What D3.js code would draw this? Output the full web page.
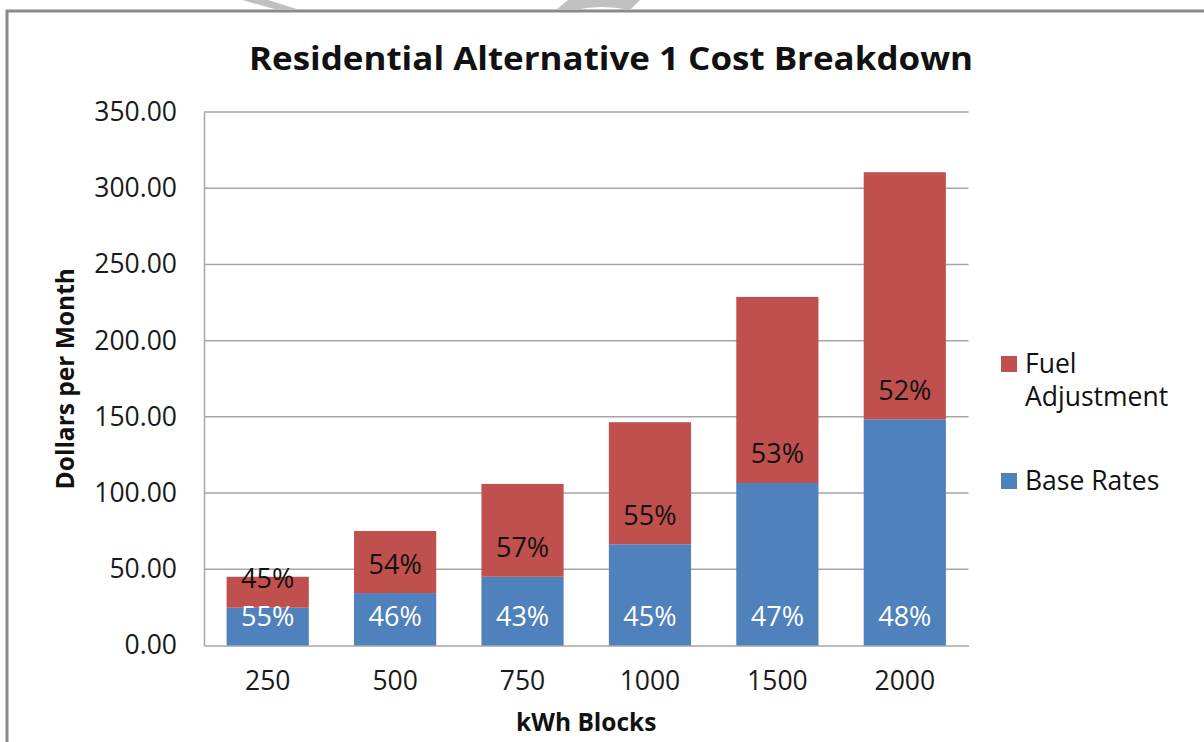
<!DOCTYPE html>
<html>
<head>
<meta charset="utf-8">
<script src="https://cdn.jsdelivr.net/npm/d3@7"></script>
<style>
  html, body { margin: 0; padding: 0; background: #fff; }
  svg { display: block; }
  text { font-family: "Open Sans", "Liberation Sans", sans-serif; }
</style>
</head>
<body>
<svg id="chart" width="1204" height="742"></svg>
<script>
// ---- data ----
const categories = ["250", "500", "750", "1000", "1500", "2000"];
const baseRates = [24.8, 34.4, 45.1, 66.4, 106.6, 148.4];
const fuelAdjustment = [20.3, 40.7, 60.9, 80.1, 122.1, 162.1];
const basePctLabels = ["55%", "46%", "43%", "45%", "47%", "48%"];
const fuelPctLabels = ["45%", "54%", "57%", "55%", "53%", "52%"];
const yTicks = [0, 50, 100, 150, 200, 250, 300, 350];
const seriesNames = ["Fuel Adjustment", "Base Rates"];
const colors = { base: "#4F81BD", fuel: "#C0504D" };

const svg = d3.select("#chart");
const W = 1204, H = 742;

// frame
svg.append("path")
  .attr("d", `M7,${H} V11 H${W}`)
  .attr("fill", "none").attr("stroke", "#8a8a8a").attr("stroke-width", 3);

// faint watermark shapes at top
const wm = svg.append("g").attr("fill", "#c0c0c0");
wm.append("path").attr("d", "M242,0 L268,0 L300,10 L278,10 Z");
wm.append("path").attr("d", "M556,10 L568,0 L640,0 L630,10 Q600,4 575,10 Z");

const plotL = 204, plotR = 968.5, plotT = 112, plotB = 645.5;
const x = d3.scaleBand().domain(categories)
  .range([plotL, plotR]).paddingInner(0.355).paddingOuter(0.1775);
const y = d3.scaleLinear().domain([0, 350]).range([plotB, plotT]);

// gridlines
svg.append("g").selectAll("line").data(yTicks.filter(d => d > 0)).join("line")
  .attr("x1", plotL).attr("x2", plotR)
  .attr("y1", d => y(d)).attr("y2", d => y(d))
  .attr("stroke", "#a6a6a6").attr("stroke-width", 1.5);

// y axis
const yAxis = d3.axisLeft(y).tickValues(yTicks).tickFormat(d3.format(".2f")).tickSize(0).tickPadding(27);
const gy = svg.append("g").attr("transform", `translate(${plotL},0)`).call(yAxis);
gy.select(".domain").attr("stroke", "#a6a6a6").attr("stroke-width", 1.5);
gy.selectAll("text").attr("font-size", 26.5).attr("fill", "#1a1a1a").attr("font-family", "Open Sans");

// x axis
const xAxis = d3.axisBottom(x).tickSize(0).tickPadding(26);
const gx = svg.append("g").attr("transform", `translate(0,${y(0)})`).call(xAxis);
gx.select(".domain").attr("stroke", "#a6a6a6").attr("stroke-width", 1.5);
gx.selectAll("text").attr("font-size", 26.5).attr("fill", "#1a1a1a").attr("font-family", "Open Sans");

// stacked bars
const rows = categories.map((c, i) => ({ cat: c, base: baseRates[i], fuel: fuelAdjustment[i], bp: basePctLabels[i], fp: fuelPctLabels[i] }));
const bars = svg.append("g");
bars.selectAll("rect.base").data(rows).join("rect").attr("class", "base")
  .attr("x", d => x(d.cat)).attr("width", x.bandwidth())
  .attr("y", d => y(d.base)).attr("height", d => y(0) - y(d.base))
  .attr("fill", colors.base);
bars.selectAll("rect.fuel").data(rows).join("rect").attr("class", "fuel")
  .attr("x", d => x(d.cat)).attr("width", x.bandwidth())
  .attr("y", d => y(d.base + d.fuel)).attr("height", d => y(d.base) - y(d.base + d.fuel))
  .attr("fill", colors.fuel);

// percentage labels (inside base of each segment)
const labels = svg.append("g").attr("font-size", 27).attr("text-anchor", "middle");
labels.selectAll("text.bl").data(rows).join("text").attr("class", "bl")
  .attr("x", d => x(d.cat) + x.bandwidth() / 2)
  .attr("y", d => y(0) - 29).attr("dy", "0.35em")
  .attr("fill", "#ffffff").text(d => d.bp);
labels.selectAll("text.fl").data(rows).join("text").attr("class", "fl")
  .attr("x", d => x(d.cat) + x.bandwidth() / 2)
  .attr("y", d => y(d.base) - 29).attr("dy", "0.35em")
  .attr("fill", "#111").text(d => d.fp);

// title
svg.append("text").attr("x", 611).attr("y", 70).attr("text-anchor", "middle")
  .attr("font-size", 32).attr("font-weight", "bold").attr("fill", "#111")
  .attr("textLength", 724).attr("lengthAdjust", "spacingAndGlyphs")
  .text("Residential Alternative 1 Cost Breakdown");

// axis titles
svg.append("text").attr("x", (plotL + plotR) / 2).attr("y", 731).attr("text-anchor", "middle")
  .attr("font-size", 24.5).attr("font-weight", "bold").attr("fill", "#111").text("kWh Blocks");
svg.append("text").attr("transform", `translate(74,${(plotT + plotB) / 2}) rotate(-90)`)
  .attr("text-anchor", "middle")
  .attr("font-size", 24.5).attr("font-weight", "bold").attr("fill", "#111").text("Dollars per Month");

// legend
const legend = svg.append("g").attr("font-size", 26.5).attr("fill", "#111");
const legendItems = [
  { name: seriesNames[0], lines: ["Fuel", "Adjustment"], color: colors.fuel, y: 364 },
  { name: seriesNames[1], lines: ["Base Rates"], color: colors.base, y: 481 }
];
legendItems.forEach(it => {
  legend.append("rect").attr("x", 1001).attr("y", it.y - 8).attr("width", 16).attr("height", 16).attr("fill", it.color);
  it.lines.forEach((ln, j) => {
    legend.append("text").attr("x", 1025).attr("y", it.y + j * 33).attr("dy", "0.35em").text(ln);
  });
});
</script>
</body>
</html>
